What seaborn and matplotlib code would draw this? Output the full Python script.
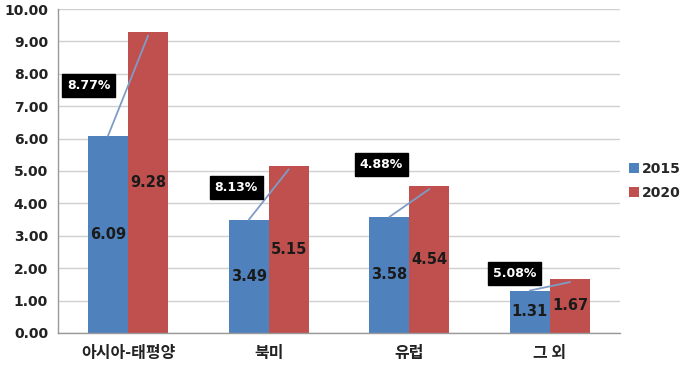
import pandas as pd
import seaborn as sns
import matplotlib.pyplot as plt

# Datos del gráfico
regions = ['아시아-태평양', '북미', '유럽', '그 외']
years = ['2015', '2020']
values_2015 = [6.09, 3.49, 3.58, 1.31]
values_2020 = [9.28, 5.15, 4.54, 1.67]
growth_labels = ['8.77%', '8.13%', '4.88%', '5.08%']

# Posición vertical de las cajas negras (en unidades del eje y)
box_y = [7.65, 4.5, 5.2, 1.85]
box_dx = [-0.28, -0.23, -0.2, -0.25]

df = pd.DataFrame({
    'region': regions * 2,
    'year': [years[0]] * 4 + [years[1]] * 4,
    'value': values_2015 + values_2020,
})

sns.set_style('white')
plt.rcParams['font.family'] = ['DejaVu Sans', 'Noto Sans CJK KR']
kr_font = ['Noto Sans CJK KR', 'DejaVu Sans']

fig = plt.figure(figsize=(6.8, 3.69), dpi=100)
ax = fig.add_axes([0.085, 0.0976, 0.827, 0.878])

palette = {'2015': '#4F81BD', '2020': '#C0504D'}
sns.barplot(data=df, x='region', y='value', hue='year', order=regions,
            hue_order=years, palette=palette, width=0.57, gap=0,
            saturation=1, linewidth=0, ax=ax, legend=True)

# Etiquetas dentro de las barras
for cont in ax.containers:
    ax.bar_label(cont, labels=[f'{p.get_height():.2f}' for p in cont],
                 label_type='center', fontsize=10.5, fontweight='bold',
                 color='#1a1a1a')

# Líneas de tendencia y cajas con el porcentaje
blue_bars, red_bars = ax.containers[0], ax.containers[1]
for i, (b, r) in enumerate(zip(blue_bars, red_bars)):
    x0 = b.get_x() + b.get_width() / 2
    x1 = r.get_x() + r.get_width() / 2
    ax.plot([x0, x1], [b.get_height(), r.get_height() - 0.1],
            color='#7F9CC6', lw=1.3, zorder=3)
    ax.text(i + box_dx[i], box_y[i], growth_labels[i], ha='center', va='center',
            color='white', fontsize=9, fontweight='bold', zorder=4,
            bbox=dict(boxstyle='square,pad=0.4', facecolor='black',
                      edgecolor='black'))

ax.set_ylim(0, 10)
ax.set_xlim(-0.5, 3.5)
ax.set_yticks([i for i in range(11)])
ax.set_yticklabels([f'{i:.2f}' for i in range(11)], fontsize=10,
                   fontweight='bold', color='#222222')
ax.set_xticks(range(4))
ax.set_xticklabels(regions, fontsize=11.5, fontweight='bold', color='#222222',
                   family=kr_font)
ax.set_xticks([-0.5, 0.5, 1.5, 2.5, 3.5], minor=True)
ax.tick_params(axis='x', which='major', length=0, pad=9)
ax.tick_params(axis='x', which='minor', length=5, color='#999999', width=1)
ax.tick_params(axis='y', length=4, color='#999999', pad=3)
ax.set_xlabel('')
ax.set_ylabel('')

ax.yaxis.grid(True, color='#d0d0d0', lw=1)
ax.set_axisbelow(True)
for s in ['top', 'right']:
    ax.spines[s].set_visible(False)
for s in ['left', 'bottom']:
    ax.spines[s].set_color('#999999')
    ax.spines[s].set_linewidth(1)

handles, labels = ax.get_legend_handles_labels()
ax.legend(handles, labels, loc='center left', bbox_to_anchor=(0.925, 0.51),
          bbox_transform=fig.transFigure, frameon=False, handlelength=0.7,
          handleheight=0.7, handletextpad=0.25, labelspacing=0.7,
          borderaxespad=0, borderpad=0,
          prop={'weight': 'bold', 'size': 10})

fig.savefig('out.png', dpi=100)
